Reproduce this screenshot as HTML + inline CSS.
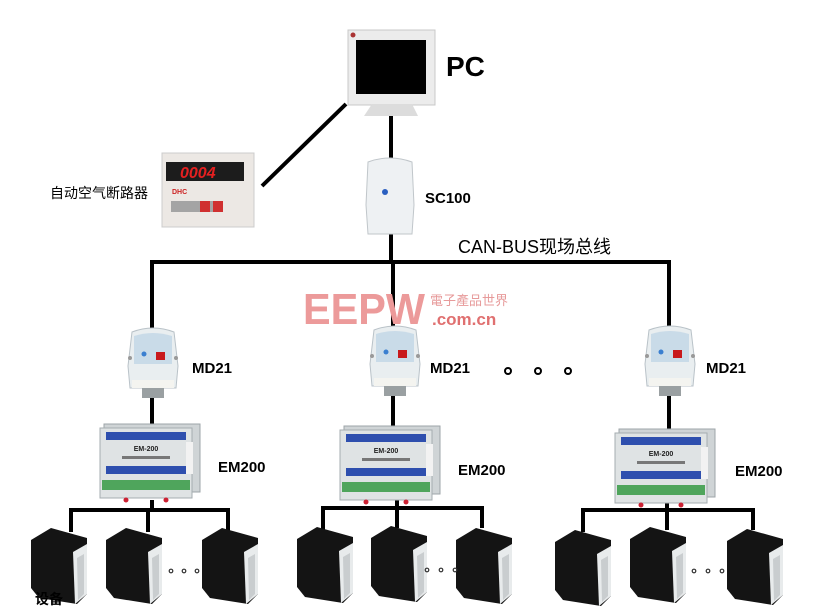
<!DOCTYPE html>
<html><head><meta charset="utf-8"><style>
html,body{margin:0;padding:0;background:#fff;}
svg{display:block}
text{font-family:"Liberation Sans","Noto Sans CJK SC",sans-serif;}
</style></head><body>
<svg width="819" height="614" viewBox="0 0 819 614" xmlns="http://www.w3.org/2000/svg">
<defs>
 <g id="md">
  <path d="M4 6 Q25 -2 46 6 L50 40 L48 62 L2 62 L0 40 Z" fill="#e9eef0" stroke="#b9c2c8"/>
  <path d="M6 10 Q25 4 44 10 L44 38 L6 38 Z" fill="#c9dbe8"/>
  <circle cx="16" cy="28" r="2.5" fill="#3a7fd0"/>
  <rect x="28" y="26" width="9" height="8" fill="#c8191c"/>
  <circle cx="2" cy="32" r="2" fill="#999"/><circle cx="48" cy="32" r="2" fill="#999"/>
  <rect x="4" y="54" width="42" height="8" fill="#f4f4f0"/>
  <rect x="14" y="62" width="22" height="10" fill="#9aa0a2"/>
 </g>
 <g id="em">
  <rect x="4" y="2" width="96" height="68" fill="#cfd4d6" stroke="#9ea5a8"/>
  <rect x="0" y="6" width="92" height="70" fill="#dfe3e4" stroke="#a6adb0"/>
  <rect x="6" y="10" width="80" height="8" fill="#2e4fae"/>
  <rect x="6" y="44" width="80" height="8" fill="#2e4fae"/>
  <text x="46" y="29" font-size="7" text-anchor="middle" font-weight="bold" fill="#222" font-family="Liberation Serif,serif">EM-200</text>
  <rect x="22" y="34" width="48" height="3" fill="#777"/>
  <rect x="2" y="58" width="88" height="10" fill="#4fa55c"/>
  <rect x="86" y="20" width="7" height="32" fill="#f2f2f2"/>
  <circle cx="26" cy="78" r="2.5" fill="#c23"/><circle cx="66" cy="78" r="2.5" fill="#c23"/>
 </g>
 <g id="dev">
  <path d="M0 12 L20 0 L56 10 L56 66 L46 76 L8 70 L0 60 Z" fill="#141414"/>
  <path d="M42 24 L56 16 L56 66 L44 76 Z" fill="#e8ebec"/>
  <path d="M46 30 L53 26 L53 66 L47 72 Z" fill="#c9cdcf"/>
 </g>
</defs>

<g stroke="#000" stroke-width="4" fill="none">
 <line x1="346" y1="104" x2="262" y2="186"/>
 <line x1="391" y1="116" x2="391" y2="160"/>
 <line x1="391" y1="232" x2="391" y2="262"/>
 <line x1="150" y1="262" x2="671" y2="262"/>
 <line x1="152" y1="262" x2="152" y2="328"/>
 <line x1="393" y1="262" x2="393" y2="326"/>
 <line x1="669" y1="262" x2="669" y2="326"/>
 <line x1="152" y1="396" x2="152" y2="428"/>
 <line x1="393" y1="396" x2="393" y2="428"/>
 <line x1="669" y1="396" x2="669" y2="430"/>
 <line x1="152" y1="500" x2="152" y2="510"/>
 <line x1="397" y1="500" x2="397" y2="508"/>
 <line x1="667" y1="502" x2="667" y2="510"/>
 <polyline points="71,532 71,510 228,510 228,532"/>
 <line x1="148" y1="510" x2="148" y2="532"/>
 <polyline points="323,530 323,508 482,508 482,528"/>
 <line x1="397" y1="508" x2="397" y2="528"/>
 <polyline points="583,532 583,510 753,510 753,530"/>
 <line x1="667" y1="510" x2="667" y2="530"/>
</g>

<rect x="348" y="30" width="87" height="75" fill="#ececec" stroke="#c8c8c8"/>
<rect x="356" y="40" width="70" height="54" fill="#000"/>
<circle cx="353" cy="35" r="2.5" fill="#a33"/>
<path d="M372 104 L412 104 L418 116 L364 116 Z" fill="#dcdcdc"/>
<text x="446" y="76" font-size="28" font-weight="bold" fill="#000">PC</text>

<rect x="162" y="153" width="92" height="74" fill="#ece8e4" stroke="#ccc"/>
<rect x="166" y="162" width="78" height="19" fill="#1c1c1c"/>
<text x="180" y="178" font-size="16" font-weight="bold" fill="#e52020" font-style="italic">0004</text>
<rect x="171" y="201" width="52" height="11" fill="#a4a4a4"/>
<rect x="200" y="201" width="10" height="11" fill="#d03030"/><rect x="213" y="201" width="10" height="11" fill="#d03030"/>
<text x="172" y="194" font-size="7" fill="#c22" font-weight="bold">DHC</text>
<text x="50" y="198" font-size="14" fill="#000">自动空气断路器</text>

<path d="M368 162 Q390 154 412 162 L414 205 L412 234 L368 234 L366 205 Z" fill="#eef1f3" stroke="#c0c6ca"/>
<circle cx="385" cy="192" r="3" fill="#2a5fc0"/>
<text x="425" y="203" font-size="15" font-weight="bold" fill="#000">SC100</text>
<text x="458" y="253" font-size="18" fill="#000">CAN-BUS现场总线</text>

<text x="303" y="324" font-size="44" font-weight="bold" fill="#ec9a9a" textLength="122" lengthAdjust="spacingAndGlyphs">EEPW</text>
<text x="430" y="305" font-size="13" fill="#e79a9a" font-family="Noto Serif CJK SC,serif">電子產品世界</text>
<text x="432" y="325" font-size="17" font-weight="bold" fill="#e07070">.com.cn</text>

<use href="#md" x="128" y="326"/>
<use href="#md" x="370" y="324"/>
<use href="#md" x="645" y="324"/>
<g font-size="15" font-weight="bold" fill="#000">
<text x="192" y="373">MD21</text><text x="430" y="373">MD21</text><text x="706" y="373">MD21</text>
</g>
<g fill="none" stroke="#000" stroke-width="2">
<circle cx="508" cy="371" r="3"/><circle cx="538" cy="371" r="3"/><circle cx="568" cy="371" r="3"/>
</g>

<use href="#em" x="100" y="422"/>
<use href="#em" x="340" y="424"/>
<use href="#em" x="615" y="427"/>
<g font-size="15" font-weight="bold" fill="#000">
<text x="218" y="472">EM200</text><text x="458" y="475">EM200</text><text x="735" y="476">EM200</text>
</g>

<use href="#dev" x="31" y="528"/><use href="#dev" x="106" y="528"/><use href="#dev" x="202" y="528"/>
<use href="#dev" x="297" y="527"/><use href="#dev" x="371" y="526"/><use href="#dev" x="456" y="528"/>
<use href="#dev" x="555" y="530"/><use href="#dev" x="630" y="527"/><use href="#dev" x="727" y="529"/>
<g fill="none" stroke="#333" stroke-width="1.2">
<circle cx="171" cy="571" r="1.8"/><circle cx="184" cy="571" r="1.8"/><circle cx="197" cy="571" r="1.8"/>
<circle cx="427" cy="570" r="1.8"/><circle cx="441" cy="570" r="1.8"/><circle cx="455" cy="570" r="1.8"/>
<circle cx="694" cy="571" r="1.8"/><circle cx="708" cy="571" r="1.8"/><circle cx="722" cy="571" r="1.8"/>
</g>
<text x="35" y="604" font-size="14" font-weight="bold" fill="#000" font-family="Noto Serif CJK SC,serif">设备</text>
</svg>
</body></html>
